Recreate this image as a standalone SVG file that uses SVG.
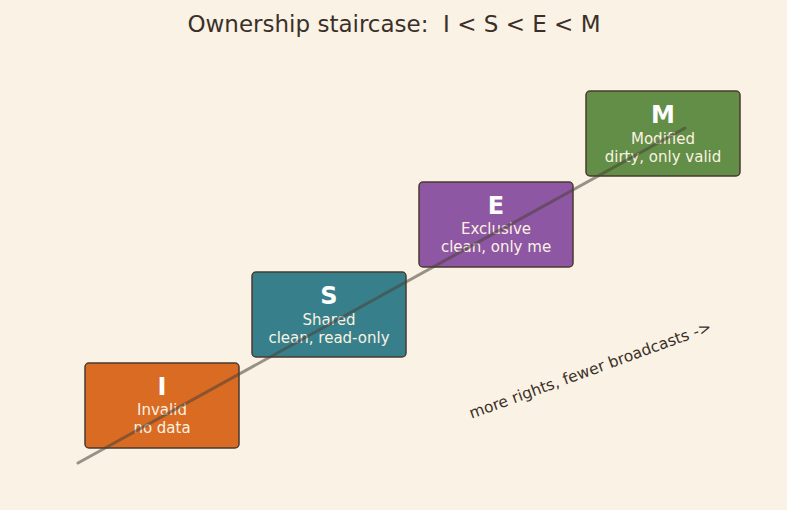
<svg xmlns="http://www.w3.org/2000/svg" width="787" height="510" viewBox="0 0 787 510">
<style>
.box{stroke:#4a3a30;stroke-width:1.5}
.big{font-family:"DejaVu Sans",sans-serif;font-weight:bold;font-size:24px;fill:#ffffff;text-anchor:middle}
.sm{font-family:"DejaVu Sans",sans-serif;font-size:15px;fill:#fbf2e2;text-anchor:middle}
</style>
<rect width="787" height="510" fill="#faf2e4"/>
<text x="394" y="32" font-family="DejaVu Sans, sans-serif" font-size="23" fill="#3a302a" text-anchor="middle" xml:space="preserve">Ownership staircase:  I &lt; S &lt; E &lt; M</text>
<g id="node-I"><rect class="box" x="85" y="363" width="154" height="85" rx="4" fill="#d96b22"/><text class="big" x="162" y="395">I</text><text class="sm" x="162" y="415">Invalid</text><text class="sm" x="162" y="433">no data</text></g>
<g id="node-S"><rect class="box" x="252" y="272" width="154" height="85" rx="4" fill="#37808b"/><text class="big" x="329" y="304">S</text><text class="sm" x="329" y="325">Shared</text><text class="sm" x="329" y="343">clean, read-only</text></g>
<g id="node-E"><rect class="box" x="419" y="182" width="154" height="85" rx="4" fill="#8e57a4"/><text class="big" x="496" y="214">E</text><text class="sm" x="496" y="234">Exclusive</text><text class="sm" x="496" y="252">clean, only me</text></g>
<g id="node-M"><rect class="box" x="586" y="91" width="154" height="85" rx="4" fill="#628e47"/><text class="big" x="663" y="123">M</text><text class="sm" x="663" y="144">Modified</text><text class="sm" x="663" y="162">dirty, only valid</text></g>
<g id="connectors"><line x1="78" y1="463" x2="685" y2="128" stroke="#4a4038" stroke-opacity="0.55" stroke-width="3" stroke-linecap="round"/></g>
<text x="592" y="375" font-family="DejaVu Sans, sans-serif" font-size="15.5" fill="#3a302a" text-anchor="middle" transform="rotate(-20 592 375)">more rights, fewer broadcasts -&gt;</text>
</svg>
